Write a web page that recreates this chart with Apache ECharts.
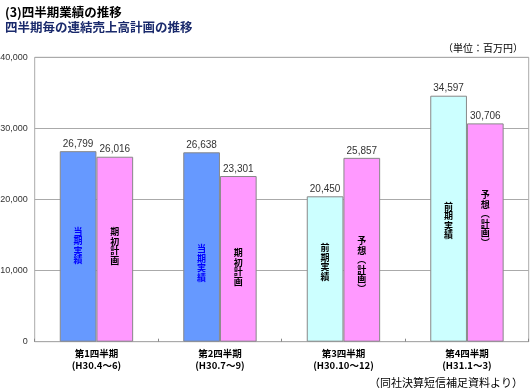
<!DOCTYPE html>
<html><head><meta charset="utf-8">
<script src="https://cdn.jsdelivr.net/npm/echarts@6/dist/echarts.min.js"></script>
<style>html,body{margin:0;padding:0;background:#fff}#c{width:530px;height:388px}</style>
</head><body><div id="c"></div>
<script>
const categories = ['第1四半期\n(H30.4～6)', '第2四半期\n(H30.7～9)', '第3四半期\n(H30.10～12)', '第4四半期\n(H31.1～3)'];
const actualValues = [26799, 26638, 20450, 34597];
const actualNames = ['当期実績', '当期実績', '前期実績', '前期実績'];
const actualColors = ['#6699FF', '#6699FF', '#CCFFFF', '#CCFFFF'];
const actualTextColors = ['#0000FF', '#0000FF', '#000000', '#000000'];
const planValues = [26016, 23301, 25857, 30706];
const planNames = ['期初計画', '期初計画', '予想︵計画︶', '予想︵計画︶'];
const planColor = '#FF99FF';
const yTicks = [0, 10000, 20000, 30000, 40000];
const actualLabelOffsets = [-1, 16, -7, 2];
const planLabelOffsets = [-3, 8, 15, -14];

const FONT = '"Liberation Sans", Arial, sans-serif';
const JFONT = '"Noto Sans CJK JP", sans-serif';
const vert = s => s.split('').join('\n');
const fmt = v => v.toLocaleString('en-US');

const chart = echarts.init(document.getElementById('c'));
const BW = 36.7;
const option = {
  animation: false,
  title: [
    {text: '(3)四半期業績の推移', left: 0, top: 1, textStyle: {fontFamily: JFONT, fontSize: 12.5, fontWeight: 'bold', color: '#000'}},
    {text: '四半期毎の連結売上高計画の推移', left: 0, top: 16, textStyle: {fontFamily: JFONT, fontSize: 12.5, fontWeight: 'bold', color: '#1A2A6C'}},
    {text: '（単位：百万円）', right: 2, top: 38, textStyle: {fontFamily: JFONT, fontSize: 10, fontWeight: 'normal', color: '#000'}},
    {text: '（同社決算短信補足資料より）', right: 2, top: 372, textStyle: {fontFamily: JFONT, fontSize: 11, fontWeight: 'normal', color: '#000'}}
  ],
  grid: {left: 34.7, top: 57.3, right: 1.3, bottom: 46.3, show: true, borderColor: '#AAAAAA', borderWidth: 1, containLabel: false, outerBoundsMode: 'none'},
  xAxis: [
    {type: 'category', data: categories,
     axisLine: {show: true, lineStyle: {color: '#AAAAAA'}},
     axisTick: {show: true, inside: true, length: 3, lineStyle: {color: '#888'}},
     axisLabel: {fontFamily: JFONT, fontSize: 9.5, fontWeight: 'bold', color: '#000', lineHeight: 12, margin: 6}},
    {type: 'category', data: categories, show: false}
  ],
  yAxis: {type: 'value', min: yTicks[0], max: yTicks[yTicks.length - 1], interval: 10000,
    axisLine: {show: false}, axisTick: {show: false},
    splitLine: {lineStyle: {color: '#AAAAAA'}},
    axisLabel: {fontFamily: FONT, fontSize: 9, color: '#333', margin: 7, formatter: fmt}},
  series: [
    {type: 'bar', xAxisIndex: 0, barWidth: BW, barGap: '0%',
     data: actualValues.map((v, i) => ({value: v, itemStyle: {color: actualColors[i]}})),
     itemStyle: {borderColor: '#888', borderWidth: 1},
     label: {show: true, position: 'top', distance: 2, fontFamily: FONT, fontSize: 10, color: '#333', formatter: p => fmt(p.value)}},
    {type: 'bar', xAxisIndex: 0, barWidth: BW, barGap: '0%',
     data: planValues.map(v => ({value: v})),
     itemStyle: {color: planColor, borderColor: '#888', borderWidth: 1},
     label: {show: true, position: 'top', distance: 2, fontFamily: FONT, fontSize: 10, color: '#333', formatter: p => fmt(p.value)}},
    {type: 'bar', xAxisIndex: 1, barWidth: BW, barGap: '0%', silent: true, z: 5,
     data: actualValues.map((v, i) => ({value: v, label: {color: actualTextColors[i], offset: [0, actualLabelOffsets[i]]}})),
     itemStyle: {color: 'rgba(0,0,0,0)'},
     label: {show: true, position: 'inside', fontFamily: JFONT, fontSize: 9, fontWeight: 'bold', lineHeight: 9.5,
       formatter: p => vert(actualNames[p.dataIndex])}},
    {type: 'bar', xAxisIndex: 1, barWidth: BW, barGap: '0%', silent: true, z: 5,
     data: planValues.map((v, i) => ({value: v, label: {offset: [0, planLabelOffsets[i]]}})),
     itemStyle: {color: 'rgba(0,0,0,0)'},
     label: {show: true, position: 'inside', fontFamily: JFONT, fontSize: 9, fontWeight: 'bold', lineHeight: 9.5, color: '#000',
       formatter: p => vert(planNames[p.dataIndex])}}
  ]
};
chart.setOption(option);
</script></body></html>
